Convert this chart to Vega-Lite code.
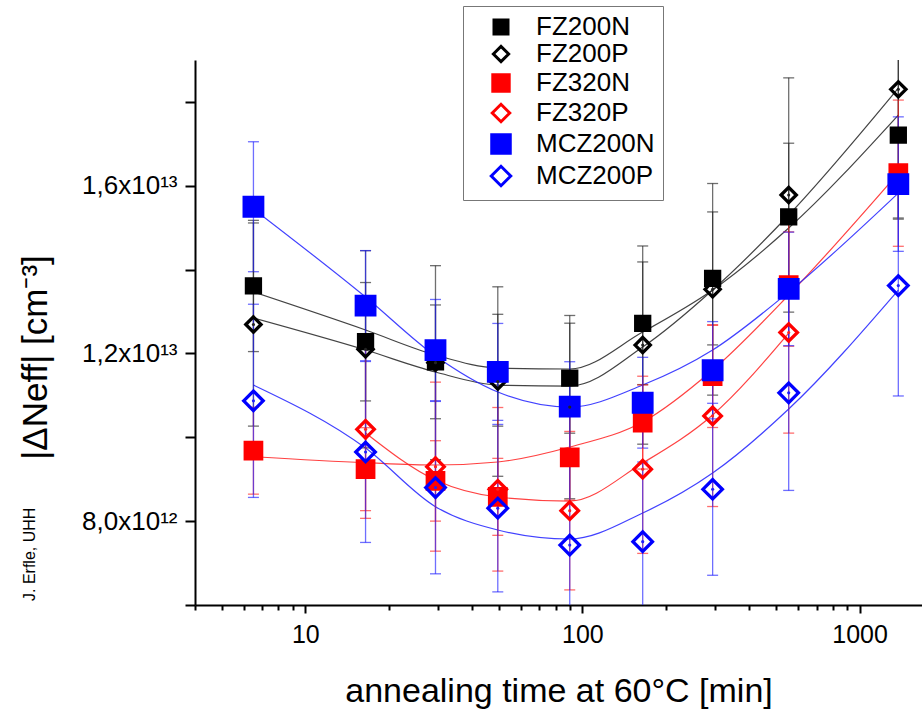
{
  "$schema": "https://vega.github.io/schema/vega-lite/v6.json",
  "autosize": {"type": "none"},
  "padding": {"left": 195, "top": 60, "right": 0, "bottom": 105},
  "width": 727,
  "height": 545,
  "background": "white",
  "config": {
    "view": {"stroke": null},
    "font": "Liberation Sans",
    "axis": {"grid": false, "labelColor": "black", "titleColor": "black", "tickColor": "black", "domainColor": "black", "titleFontWeight": "normal", "labelFont": "Liberation Sans", "titleFont": "Liberation Sans"},
    "legend": {
      "orient": "none", "legendX": 268, "legendY": -54,
      "strokeColor": "#777777", "fillColor": "white", "padding": 8,
      "labelFontSize": 26, "labelFont": "Liberation Sans", "labelColor": "black", "labelLimit": 300,
      "rowPadding": 0, "symbolOffset": 17, "labelOffset": 22, "symbolStrokeWidth": 3
    }
  },
  "title": {"text": "J. Erfle, UHH", "orient": "left", "anchor": "start", "frame": "group", "fontSize": 16, "fontWeight": "normal", "font": "Liberation Sans", "color": "black", "offset": -20, "dx": 4},
  "datasets": {
    "pts": [
      {"s": "FZ200N", "t": 6.5, "v": 13.61e12, "lo": 12.045e12, "hi": 15.175e12},
      {"s": "FZ200N", "t": 16.5, "v": 12.28e12, "lo": 10.868e12, "hi": 13.692e12},
      {"s": "FZ200N", "t": 29.5, "v": 11.80e12, "lo": 10.443e12, "hi": 13.157e12},
      {"s": "FZ200N", "t": 49.5, "v": 11.60e12, "lo": 10.266e12, "hi": 12.934e12},
      {"s": "FZ200N", "t": 90, "v": 11.41e12, "lo": 10.098e12, "hi": 12.722e12},
      {"s": "FZ200N", "t": 165, "v": 12.72e12, "lo": 11.257e12, "hi": 14.183e12},
      {"s": "FZ200N", "t": 295, "v": 13.79e12, "lo": 12.204e12, "hi": 15.376e12},
      {"s": "FZ200N", "t": 555, "v": 15.26e12, "lo": 13.505e12, "hi": 17.015e12},
      {"s": "FZ200N", "t": 1380, "v": 17.21e12, "lo": 15.231e12, "hi": 19.189e12},
      {"s": "FZ200P", "t": 6.5, "v": 12.69e12, "lo": 10.267e12, "hi": 15.113e12},
      {"s": "FZ200P", "t": 16.5, "v": 12.10e12, "lo": 9.748e12, "hi": 14.452e12},
      {"s": "FZ200P", "t": 29.5, "v": 11.78e12, "lo": 9.466e12, "hi": 14.094e12},
      {"s": "FZ200P", "t": 49.5, "v": 11.33e12, "lo": 9.07e12, "hi": 13.59e12},
      {"s": "FZ200P", "t": 90, "v": 10.72e12, "lo": 8.534e12, "hi": 12.906e12},
      {"s": "FZ200P", "t": 165, "v": 12.20e12, "lo": 9.836e12, "hi": 14.564e12},
      {"s": "FZ200P", "t": 295, "v": 13.53e12, "lo": 11.006e12, "hi": 16.054e12},
      {"s": "FZ200P", "t": 555, "v": 15.78e12, "lo": 12.986e12, "hi": 18.574e12},
      {"s": "FZ200P", "t": 1380, "v": 18.30e12, "lo": 15.204e12, "hi": 21.396e12},
      {"s": "FZ320N", "t": 6.5, "v": 9.68e12, "lo": 8.644e12, "hi": 10.716e12},
      {"s": "FZ320N", "t": 16.5, "v": 9.24e12, "lo": 8.251e12, "hi": 10.229e12},
      {"s": "FZ320N", "t": 29.5, "v": 8.96e12, "lo": 8.001e12, "hi": 9.919e12},
      {"s": "FZ320N", "t": 49.5, "v": 8.58e12, "lo": 7.662e12, "hi": 9.498e12},
      {"s": "FZ320N", "t": 90, "v": 9.52e12, "lo": 8.501e12, "hi": 10.539e12},
      {"s": "FZ320N", "t": 165, "v": 10.35e12, "lo": 9.243e12, "hi": 11.457e12},
      {"s": "FZ320N", "t": 295, "v": 11.46e12, "lo": 10.234e12, "hi": 12.686e12},
      {"s": "FZ320N", "t": 555, "v": 13.63e12, "lo": 12.172e12, "hi": 15.088e12},
      {"s": "FZ320N", "t": 1380, "v": 16.30e12, "lo": 14.556e12, "hi": 18.044e12},
      {"s": "FZ320P", "t": 16.5, "v": 10.19e12, "lo": 8.067e12, "hi": 12.313e12},
      {"s": "FZ320P", "t": 29.5, "v": 9.30e12, "lo": 7.284e12, "hi": 11.316e12},
      {"s": "FZ320P", "t": 49.5, "v": 8.76e12, "lo": 6.809e12, "hi": 10.711e12},
      {"s": "FZ320P", "t": 90, "v": 8.25e12, "lo": 6.36e12, "hi": 10.14e12},
      {"s": "FZ320P", "t": 165, "v": 9.24e12, "lo": 7.231e12, "hi": 11.249e12},
      {"s": "FZ320P", "t": 295, "v": 10.51e12, "lo": 8.349e12, "hi": 12.671e12},
      {"s": "FZ320P", "t": 555, "v": 12.50e12, "lo": 10.10e12, "hi": 14.90e12},
      {"s": "MCZ200N", "t": 6.5, "v": 15.50e12, "lo": 13.95e12, "hi": 17.05e12},
      {"s": "MCZ200N", "t": 16.5, "v": 13.14e12, "lo": 11.826e12, "hi": 14.454e12},
      {"s": "MCZ200N", "t": 29.5, "v": 12.08e12, "lo": 10.872e12, "hi": 13.288e12},
      {"s": "MCZ200N", "t": 49.5, "v": 11.56e12, "lo": 10.404e12, "hi": 12.716e12},
      {"s": "MCZ200N", "t": 90, "v": 10.73e12, "lo": 9.657e12, "hi": 11.803e12},
      {"s": "MCZ200N", "t": 165, "v": 10.825e12, "lo": 9.742e12, "hi": 11.908e12},
      {"s": "MCZ200N", "t": 295, "v": 11.60e12, "lo": 10.44e12, "hi": 12.76e12},
      {"s": "MCZ200N", "t": 555, "v": 13.54e12, "lo": 12.186e12, "hi": 14.894e12},
      {"s": "MCZ200N", "t": 1380, "v": 16.04e12, "lo": 14.436e12, "hi": 17.644e12},
      {"s": "MCZ200P", "t": 6.5, "v": 10.87e12, "lo": 8.566e12, "hi": 13.174e12},
      {"s": "MCZ200P", "t": 16.5, "v": 9.65e12, "lo": 7.492e12, "hi": 11.808e12},
      {"s": "MCZ200P", "t": 29.5, "v": 8.80e12, "lo": 6.744e12, "hi": 10.856e12},
      {"s": "MCZ200P", "t": 49.5, "v": 8.31e12, "lo": 6.313e12, "hi": 10.307e12},
      {"s": "MCZ200P", "t": 90, "v": 7.43e12, "lo": 5.538e12, "hi": 9.322e12},
      {"s": "MCZ200P", "t": 165, "v": 7.51e12, "lo": 5.609e12, "hi": 9.411e12},
      {"s": "MCZ200P", "t": 295, "v": 8.76e12, "lo": 6.709e12, "hi": 10.811e12},
      {"s": "MCZ200P", "t": 555, "v": 11.06e12, "lo": 8.733e12, "hi": 13.387e12},
      {"s": "MCZ200P", "t": 1380, "v": 13.62e12, "lo": 10.986e12, "hi": 16.254e12}
    ],
    "fit": [
      {"s": "FZ200N", "t": 6.5, "v": 13.465e12},
      {"s": "FZ200N", "t": 16.5, "v": 12.559e12},
      {"s": "FZ200N", "t": 29.5, "v": 11.963e12},
      {"s": "FZ200N", "t": 49.5, "v": 11.652e12},
      {"s": "FZ200N", "t": 90, "v": 11.629e12},
      {"s": "FZ200N", "t": 165, "v": 12.511e12},
      {"s": "FZ200N", "t": 295, "v": 13.513e12},
      {"s": "FZ200N", "t": 555, "v": 14.991e12},
      {"s": "FZ200N", "t": 1380, "v": 17.687e12},
      {"s": "FZ200P", "t": 6.5, "v": 12.845e12},
      {"s": "FZ200P", "t": 16.5, "v": 12.082e12},
      {"s": "FZ200P", "t": 29.5, "v": 11.557e12},
      {"s": "FZ200P", "t": 49.5, "v": 11.247e12},
      {"s": "FZ200P", "t": 90, "v": 11.223e12},
      {"s": "FZ200P", "t": 165, "v": 12.153e12},
      {"s": "FZ200P", "t": 295, "v": 13.513e12},
      {"s": "FZ200P", "t": 555, "v": 15.302e12},
      {"s": "FZ200P", "t": 1380, "v": 18.33e12},
      {"s": "FZ320N", "t": 6.5, "v": 9.537e12},
      {"s": "FZ320N", "t": 16.5, "v": 9.394e12},
      {"s": "FZ320N", "t": 29.5, "v": 9.339e12},
      {"s": "FZ320N", "t": 49.5, "v": 9.411e12},
      {"s": "FZ320N", "t": 90, "v": 9.768e12},
      {"s": "FZ320N", "t": 165, "v": 10.365e12},
      {"s": "FZ320N", "t": 295, "v": 11.605e12},
      {"s": "FZ320N", "t": 555, "v": 13.394e12},
      {"s": "FZ320N", "t": 1380, "v": 16.303e12},
      {"s": "FZ320P", "t": 16.5, "v": 10.102e12},
      {"s": "FZ320P", "t": 29.5, "v": 8.981e12},
      {"s": "FZ320P", "t": 49.5, "v": 8.576e12},
      {"s": "FZ320P", "t": 90, "v": 8.48e12},
      {"s": "FZ320P", "t": 165, "v": 9.387e12},
      {"s": "FZ320P", "t": 295, "v": 10.532e12},
      {"s": "FZ320P", "t": 555, "v": 12.487e12},
      {"s": "MCZ200N", "t": 6.5, "v": 15.445e12},
      {"s": "MCZ200N", "t": 16.5, "v": 13.346e12},
      {"s": "MCZ200N", "t": 29.5, "v": 11.939e12},
      {"s": "MCZ200N", "t": 49.5, "v": 11.08e12},
      {"s": "MCZ200N", "t": 90, "v": 10.722e12},
      {"s": "MCZ200N", "t": 165, "v": 11.247e12},
      {"s": "MCZ200N", "t": 295, "v": 12.082e12},
      {"s": "MCZ200N", "t": 555, "v": 13.465e12},
      {"s": "MCZ200N", "t": 1380, "v": 15.826e12},
      {"s": "MCZ200P", "t": 6.5, "v": 11.247e12},
      {"s": "MCZ200P", "t": 16.5, "v": 9.744e12},
      {"s": "MCZ200P", "t": 29.5, "v": 8.344e12},
      {"s": "MCZ200P", "t": 49.5, "v": 7.789e12},
      {"s": "MCZ200P", "t": 90, "v": 7.574e12},
      {"s": "MCZ200P", "t": 165, "v": 8.194e12},
      {"s": "MCZ200P", "t": 295, "v": 9.148e12},
      {"s": "MCZ200P", "t": 555, "v": 10.675e12},
      {"s": "MCZ200P", "t": 1380, "v": 13.513e12}
    ]
  },
  "resolve": {"axis": {"x": "independent", "y": "independent"}},
  "layer": [
    {
      "data": {"name": "fit"},
      "mark": {"type": "line", "interpolate": "monotone", "strokeWidth": 1.2, "opacity": 0.85, "clip": true},
      "encoding": {
        "x": {
          "field": "t", "type": "quantitative",
          "scale": {"type": "log", "domain": [4, 1680], "nice": false},
          "axis": {
            "orient": "bottom",
            "values": [10, 100, 1000], "format": "d",
            "tickSize": 8, "tickWidth": 2, "domainWidth": 2,
            "labelFontSize": 25, "labelPadding": 9,
            "title": "annealing time at 60°C [min]", "titleFontSize": 34,
            "titleX": 363.5, "titleY": 96, "titleBaseline": "alphabetic", "titleAlign": "center"
          }
        },
        "y": {
          "field": "v", "type": "quantitative",
          "scale": {"domain": [6e12, 1.9e13], "nice": false, "zero": false},
          "axis": {
            "orient": "left",
            "values": [6e12, 8e12, 1e13, 1.2e13, 1.4e13, 1.6e13, 1.8e13],
            "labelExpr": "datum.value == 8e12 ? '8,0x10¹²' : (datum.value == 1.2e13 ? '1,2x10¹³' : (datum.value == 1.6e13 ? '1,6x10¹³' : ''))",
            "tickSize": 10, "tickWidth": 2, "domainWidth": 2,
            "labelFontSize": 26, "labelPadding": 8,
            "title": "|ΔNeff| [cm⁻³]", "titleFontSize": 35,
            "titleX": -160, "titleY": 297, "titleAngle": -90, "titleBaseline": "middle", "titleAlign": "center"
          }
        },
        "color": {
          "field": "s", "type": "nominal",
          "scale": {"domain": ["FZ200N", "FZ320N", "MCZ200N", "FZ200P", "FZ320P", "MCZ200P"], "range": ["#222222", "#ff2020", "#2020ff", "#222222", "#ff2020", "#2020ff"]},
          "legend": null
        },
        "detail": {"field": "s"}
      }
    },
    {
      "data": {"name": "pts"},
      "mark": {"type": "errorbar", "ticks": true, "size": 11, "thickness": 1.3, "opacity": 0.65, "clip": true},
      "encoding": {
        "x": {
          "field": "t", "type": "quantitative",
          "axis": {
            "orient": "bottom",
            "values": [4, 5, 6, 7, 8, 9, 20, 30, 40, 50, 60, 70, 80, 90, 200, 300, 400, 500, 600, 700, 800, 900],
            "labels": false, "domain": false, "tickSize": 5, "tickWidth": 2, "title": null
          }
        },
        "y": {"field": "lo", "type": "quantitative", "axis": null},
        "y2": {"field": "hi"},
        "color": {"field": "s", "type": "nominal", "legend": null}
      }
    },
    {
      "data": {"name": "pts"},
      "mark": {"type": "point", "strokeWidth": 3.3, "opacity": 1},
      "encoding": {
        "x": {"field": "t", "type": "quantitative", "axis": null},
        "y": {"field": "v", "type": "quantitative", "axis": null},
        "shape": {
          "field": "s", "type": "nominal",
          "scale": {"domain": ["FZ200N", "FZ200P", "FZ320N", "FZ320P", "MCZ200N", "MCZ200P"], "range": ["square", "diamond", "square", "diamond", "square", "diamond"]},
          "legend": {"title": null}
        },
        "fill": {
          "field": "s", "type": "nominal",
          "scale": {"domain": ["FZ200N", "FZ200P", "FZ320N", "FZ320P", "MCZ200N", "MCZ200P"], "range": ["black", "transparent", "red", "transparent", "blue", "transparent"]},
          "legend": {"title": null}
        },
        "stroke": {
          "field": "s", "type": "nominal",
          "scale": {"domain": ["FZ200N", "FZ200P", "FZ320N", "FZ320P", "MCZ200N", "MCZ200P"], "range": ["black", "black", "red", "red", "blue", "blue"]},
          "legend": {"title": null}
        },
        "size": {
          "field": "s", "type": "nominal",
          "scale": {"domain": ["FZ200N", "FZ200P", "FZ320N", "FZ320P", "MCZ200N", "MCZ200P"], "range": [196, 380, 196, 380, 196, 380]},
          "legend": {"title": null}
        }
      }
    },
    {
      "data": {"name": "pts"},
      "transform": [{"filter": {"field": "s", "oneOf": ["FZ200P", "FZ320P", "MCZ200P"]}}],
      "mark": {"type": "point", "filled": true, "size": 10, "opacity": 1},
      "encoding": {
        "x": {"field": "t", "type": "quantitative", "axis": null},
        "y": {"field": "v", "type": "quantitative", "axis": null},
        "color": {"field": "s", "type": "nominal", "legend": null}
      }
    }
  ]
}
